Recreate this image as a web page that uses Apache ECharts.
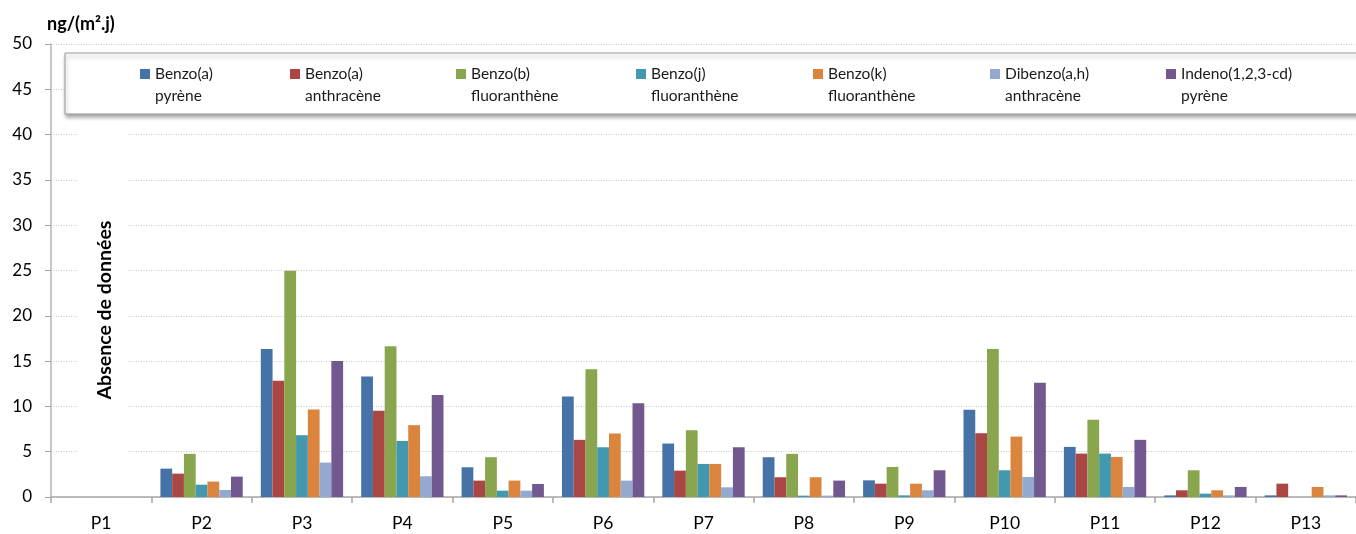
<!DOCTYPE html>
<html>
<head>
<meta charset="utf-8">
<script src="https://cdn.jsdelivr.net/npm/echarts@6/dist/echarts.min.js"></script>
<style>
html,body{margin:0;padding:0;background:#fff;}
#chart{width:1356px;height:534px;}
</style>
</head>
<body>
<div id="chart"></div>
<script>
var categories = ['P1','P2','P3','P4','P5','P6','P7','P8','P9','P10','P11','P12','P13'];
var seriesNames = ['Benzo(a) pyrène','Benzo(a) anthracène','Benzo(b) fluoranthène','Benzo(j) fluoranthène','Benzo(k) fluoranthène','Dibenzo(a,h) anthracène','Indeno(1,2,3-cd) pyrène'];
var benzoAPyrene       = [null, 3.13, 16.33, 13.31, 3.28, 11.10, 5.90, 4.39, 1.84, 9.62, 5.53, 0.18, 0.18];
var benzoAAnthracene   = [null, 2.58, 12.83, 9.51, 1.81, 6.31, 2.91, 2.18, 1.47, 7.04, 4.79, 0.74, 1.47];
var benzoBFluoranthene = [null, 4.76, 24.96, 16.63, 4.39, 14.09, 7.37, 4.76, 3.32, 16.33, 8.52, 2.95, null];
var benzoJFluoranthene = [null, 1.36, 6.82, 6.19, 0.70, 5.49, 3.65, 0.15, 0.18, 2.95, 4.79, 0.37, null];
var benzoKFluoranthene = [null, 1.70, 9.66, 7.93, 1.81, 7.01, 3.65, 2.18, 1.47, 6.67, 4.42, 0.74, 1.11];
var dibenzoAnthracene  = [null, 0.77, 3.80, 2.29, 0.70, 1.81, 1.07, 0.15, 0.74, 2.21, 1.11, 0.18, 0.18];
var indenoPyrene       = [null, 2.25, 15.00, 11.25, 1.44, 10.36, 5.49, 1.81, 2.95, 12.61, 6.31, 1.11, 0.18];
var yTicks = [0, 5, 10, 15, 20, 25, 30, 35, 40, 45, 50];
var unitLabel = 'ng/(m².j)';
var noDataLabel = 'Absence de données';

var allData = [benzoAPyrene, benzoAAnthracene, benzoBFluoranthene, benzoJFluoranthene, benzoKFluoranthene, dibenzoAnthracene, indenoPyrene];
var colors = ['#4572A7','#AA4643','#89A54E','#4198AF','#DB843D','#93A9CF','#71588F'];
var legendLefts = [140, 290, 456, 636, 813, 990, 1166];
var FONT = 'Lato, "Open Sans", sans-serif';

var chart = echarts.init(document.getElementById('chart'));

var legends = seriesNames.map(function (n, i) {
  return {
    data: [n],
    left: legendLefts[i],
    top: 41,
    orient: 'horizontal',
    itemWidth: 10,
    itemHeight: 10,
    itemGap: 0,
    icon: 'rect',
    selectedMode: false,
    padding: 0,
    formatter: function (name) { return ' \n' + name.replace(' ', '\n'); },
    textStyle: { fontFamily: FONT, fontSize: 15.5, color: '#1a1a1a', lineHeight: 22 }
  };
});

var series = seriesNames.map(function (n, i) {
  return {
    name: n,
    type: 'bar',
    data: allData[i],
    barGap: '0%',
    barCategoryGap: '18%',
    itemStyle: { color: colors[i] },
    emphasis: { disabled: true }
  };
});

chart.setOption({
  animation: false,
  color: colors,
  textStyle: { fontFamily: FONT },
  grid: { left: 51, right: -12, top: 44, bottom: 37, containLabel: false },
  legend: legends,
  graphic: [
    {
      type: 'rect', z: 1, silent: true,
      shape: { x: 65, y: 53, width: 1400, height: 61 },
      style: { fill: '#fff', stroke: '#9a9a9a', lineWidth: 1, shadowBlur: 4, shadowOffsetX: 1, shadowOffsetY: 3, shadowColor: 'rgba(0,0,0,0.35)' }
    },
    {
      type: 'rect', z: 1, silent: true,
      shape: { x: 78, y: 122, width: 49, height: 373 },
      style: { fill: '#fff' }
    },
    {
      type: 'text', z: 5, silent: true,
      x: 105, y: 310, rotation: Math.PI / 2,
      style: { text: noDataLabel, font: 'bold 19.5px ' + FONT, fill: '#000', align: 'center', verticalAlign: 'middle' }
    }
  ],
  xAxis: {
    type: 'category',
    data: categories,
    axisLine: { lineStyle: { color: '#a6a6a6', width: 1.5 } },
    axisTick: { show: true, length: 6, lineStyle: { color: '#a6a6a6', width: 1.5 } },
    axisLabel: { color: '#000', fontSize: 17.5, margin: 17, fontFamily: FONT },
    splitLine: { show: false }
  },
  yAxis: {
    type: 'value',
    min: yTicks[0], max: yTicks[yTicks.length - 1], interval: 5,
    name: unitLabel,
    nameLocation: 'end',
    nameGap: 11,
    nameTextStyle: { align: 'left', fontWeight: 'bold', fontSize: 18, color: '#000', padding: [0, 0, 0, -4], fontFamily: FONT },
    axisLine: { show: true, lineStyle: { color: '#b5b5b5', width: 1.5 } },
    axisTick: { show: true, length: 6, lineStyle: { color: '#a6a6a6', width: 1 } },
    axisLabel: { color: '#000', fontSize: 17, margin: 19, fontFamily: FONT },
    splitLine: { show: true, lineStyle: { color: '#c8c8c8', type: [1, 1.5], width: 1 } }
  },
  series: series
});
</script>
</body>
</html>
